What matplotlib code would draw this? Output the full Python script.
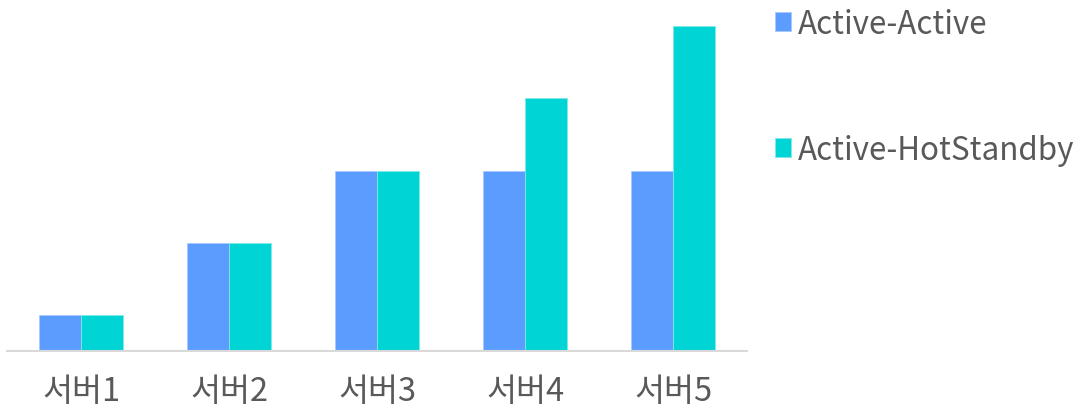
import matplotlib
matplotlib.use("Agg")
import matplotlib.pyplot as plt
import numpy as np

categories = ["서버1", "서버2", "서버3", "서버4", "서버5"]
active_active = [1, 3, 5, 5, 5]
active_hot = [1, 3, 5, 7, 9]
series_names = ["Active-Active", "Active-HotStandby"]
colors = ["#5B9DFF", "#00D4D4"]

plt.rcParams['font.family'] = ['Noto Sans CJK KR', 'DejaVu Sans']
text_color = "#595959"

fig = plt.figure(figsize=(10.89, 4.10), dpi=100)
ax = fig.add_axes([7/1089, (410-352)/410, 740/1089, 352/410])

x = np.arange(len(categories))
w = 0.283
ax.bar(x - w/2, active_active, w, color=colors[0], edgecolor="#A9C8FF", linewidth=0.6, label=series_names[0])
ax.bar(x + w/2, active_hot, w, color=colors[1], edgecolor="#7FE8E8", linewidth=0.6, label=series_names[1])

ax.set_xlim(-0.5, len(categories) - 0.5)
ax.set_ylim(0, 352/36.1)
ax.set_xticks(x)
ax.set_xticklabels(categories, fontsize=23.5, color=text_color)
ax.tick_params(axis='x', length=0, pad=17)
ax.set_yticks([])
for s in ["top", "right", "left"]:
    ax.spines[s].set_visible(False)
ax.spines["bottom"].set_color("#D9D9D9")
ax.spines["bottom"].set_linewidth(1.5)

leg = fig.legend(loc="upper left", bbox_to_anchor=(762/1089, 1 + 4/410), frameon=False,
                 fontsize=22.6, handlelength=0.52, handleheight=0.52, handletextpad=0.22,
                 labelspacing=3.0, borderaxespad=0)
for t in leg.get_texts():
    t.set_color(text_color)

fig.savefig("out.png", dpi=100)
